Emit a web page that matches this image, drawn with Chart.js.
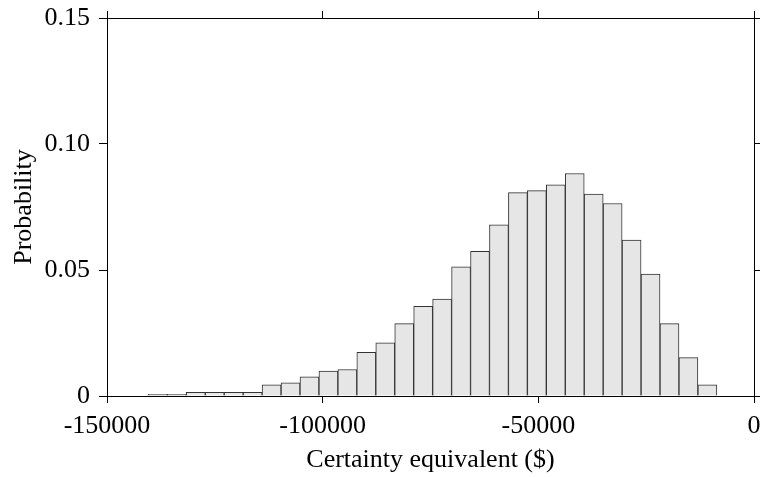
<!DOCTYPE html>
<html>
<head>
<meta charset="utf-8">
<script src="https://cdn.jsdelivr.net/npm/chart.js@4/dist/chart.umd.min.js"></script>
<style>
  html, body { margin: 0; padding: 0; background: #fff; }
  #wrap { width: 763px; height: 477px; }
</style>
</head>
<body>
<div id="wrap"><canvas id="grafico"></canvas></div>
<script>
// histogram bins: left edge of first bin and bin width ($)
const binStart = -140400;
const binWidth = 4393;
// probability per bin
const probabilidades = [
  0.0007, 0.0007, 0.0015, 0.0015, 0.0015, 0.0015, 0.0044, 0.0052, 0.0076, 0.0099,
  0.0105, 0.0173, 0.0211, 0.0287, 0.0356, 0.0385, 0.0513, 0.0574, 0.0679, 0.0807,
  0.0815, 0.0838, 0.0883, 0.0801, 0.0764, 0.0619, 0.0484, 0.0287, 0.0152, 0.0044
];
const xTicks = [-150000, -100000, -50000, 0];
const xTickLabels = ['-150000', '-100000', '-50000', '0'];
const yTicks = [0, 0.05, 0.10, 0.15];
const yTickLabels = ['0', '0.05', '0.10', '0.15'];

const pontos = probabilidades.map((p, i) => ({ x: binStart + binWidth * (i + 0.5), y: p }));

const fonte = { family: 'Liberation Serif', size: 26 };
const preto = '#000';

function marcas(valores) {
  return scale => { scale.ticks = valores.map(v => ({ value: v })); };
}

new Chart(document.getElementById('grafico'), {
  type: 'bar',
  data: {
    datasets: [{
      data: pontos,
      backgroundColor: '#e6e6e6',
      borderColor: '#333',
      borderWidth: 1,
      barPercentage: 1,
      categoryPercentage: 1
    }]
  },
  options: {
    responsive: true,
    maintainAspectRatio: false,
    animation: false,
    layout: { padding: 0 },
    plugins: { legend: { display: false }, tooltip: { enabled: false } },
    scales: {
      x: {
        type: 'linear',
        position: 'bottom',
        offset: false,
        min: -150000,
        max: 0,
        afterBuildTicks: marcas(xTicks),
        afterFit: s => { s.height = 81; s.paddingLeft = 0; s.paddingRight = 0; },
        border: { display: true, color: preto, width: 1 },
        grid: { offset: false, drawOnChartArea: false, drawTicks: true, tickLength: 7, color: preto },
        ticks: {
          color: preto, font: fonte, padding: 8, maxRotation: 0, autoSkip: false,
          callback: (v, i) => xTickLabels[i]
        },
        title: { display: true, text: 'Certainty equivalent ($)', color: preto, font: fonte, padding: { top: 0, bottom: 1 } }
      },
      x2: {
        type: 'linear',
        position: 'top',
        offset: false,
        min: -150000,
        max: 0,
        afterBuildTicks: marcas(xTicks),
        afterFit: s => { s.height = 18; s.paddingLeft = 0; s.paddingRight = 0; },
        border: { display: true, color: preto, width: 1 },
        grid: { offset: false, drawOnChartArea: false, drawTicks: true, tickLength: 7, color: preto },
        ticks: { display: false }
      },
      y: {
        type: 'linear',
        position: 'left',
        min: 0,
        max: 0.15,
        afterBuildTicks: marcas(yTicks),
        afterFit: s => { s.width = 107; s.paddingTop = 0; s.paddingBottom = 0; },
        border: { display: true, color: preto, width: 1 },
        grid: { drawOnChartArea: false, drawTicks: true, tickLength: 8, color: preto },
        ticks: {
          color: preto, font: fonte, padding: 9, autoSkip: false,
          callback: (v, i) => yTickLabels[i]
        },
        title: { display: true, text: 'Probability', color: preto, font: fonte, padding: { top: 9, bottom: 0 } }
      },
      y2: {
        type: 'linear',
        position: 'right',
        min: 0,
        max: 0.15,
        afterBuildTicks: marcas(yTicks),
        afterFit: s => { s.width = 9; s.paddingTop = 0; s.paddingBottom = 0; },
        border: { display: true, color: preto, width: 1 },
        grid: { drawOnChartArea: false, drawTicks: true, tickLength: 6, color: preto },
        ticks: { display: false }
      }
    }
  }
});
</script>
</body>
</html>
